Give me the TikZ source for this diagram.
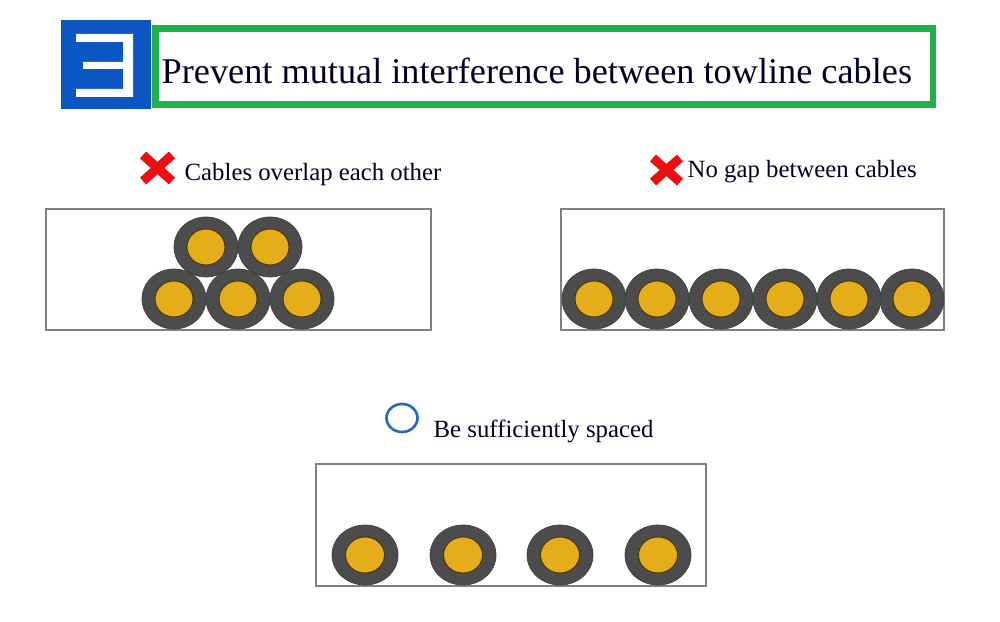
\documentclass[tikz,border=0pt]{standalone}
\usepackage{fontspec}
\usepackage{xcolor}
\setmainfont{Liberation Serif}
\definecolor{iconblue}{rgb}{0.04,0.34,0.77}
\definecolor{framegreen}{rgb}{0.13,0.69,0.30}
\definecolor{crossred}{rgb}{0.93,0.05,0.07}
\definecolor{ringblue}{rgb}{0.15,0.42,0.72}
\definecolor{shellgray}{rgb}{0.30,0.30,0.30}
\definecolor{coreyellow}{rgb}{0.90,0.68,0.10}
\definecolor{boxgray}{rgb}{0.50,0.50,0.50}
\tikzset{
  traybox/.style={draw=boxgray,line width=0.5pt},
  shell/.style={fill=shellgray,draw=black!75,line width=0.2pt},
  core/.style={fill=coreyellow,draw=black!70!coreyellow,line width=0.25pt},
  crossbar/.style={draw=crossred,line width=2.6pt},
  caption/.style={anchor=base west,inner sep=0pt,text=black!85!blue}
}
\begin{document}
\begin{tikzpicture}
    \useasboundingbox (0,0) rectangle (10,6.21);
    % Title icon
    \fill[iconblue] (0.61,5.12) rectangle (1.51,6.01);
    \fill[white] (0.76,5.87) -- (1.33,5.87) -- (1.33,5.24) -- (0.76,5.24) -- (0.76,5.32) -- (1.23,5.32)
        -- (1.23,5.52) -- (0.83,5.52) -- (0.83,5.59) -- (1.23,5.59) -- (1.23,5.79) -- (0.76,5.79) -- cycle;
    % Title frame
    \draw[framegreen,line width=1.85pt] (1.555,5.165) rectangle (9.33,5.925);
    \node[caption,font=\fontsize{10.32}{12}\selectfont] (title) at (1.61,5.37) {Prevent mutual interference between towline cables};
    % Cables overlap
    \draw[crossbar] (1.43,4.66) -- (1.72,4.40);
    \draw[crossbar] (1.72,4.66) -- (1.43,4.40);
    \node[caption,font=\fontsize{7.05}{8}\selectfont] (overlap) at (1.84,4.40) {Cables overlap each other};
    \draw[traybox] (0.46,2.91) rectangle (4.31,4.12);
    \foreach \x/\y in {2.06/3.74,2.70/3.74,1.74/3.22,2.38/3.22,3.02/3.22} {
        \draw[shell] (\x,\y) ellipse (0.32 and 0.30);
        \draw[core] (\x,\y) ellipse (0.19 and 0.18);
    }
    % No gap
    \draw[crossbar] (6.53,4.63) -- (6.80,4.39);
    \draw[crossbar] (6.80,4.63) -- (6.53,4.39);
    \node[caption,font=\fontsize{7.05}{8}\selectfont] (nogap) at (6.87,4.43) {No gap between cables};
    \draw[traybox] (5.61,2.91) rectangle (9.44,4.12);
    \foreach \x in {5.94,6.57,7.21,7.85,8.49,9.12} {
        \draw[shell] (\x,3.22) ellipse (0.32 and 0.30);
        \draw[core] (\x,3.22) ellipse (0.19 and 0.18);
    }
    % Spaced
    \draw[ringblue,line width=0.75pt] (4.02,2.03) ellipse (0.155 and 0.14);
    \node[caption,font=\fontsize{7.05}{8}\selectfont] (spaced) at (4.33,1.83) {Be sufficiently spaced};
    \draw[traybox] (3.16,0.35) rectangle (7.06,1.57);
    \foreach \x in {3.65,4.63,5.60,6.58} {
        \draw[shell] (\x,0.66) ellipse (0.33 and 0.30);
        \draw[core] (\x,0.66) ellipse (0.195 and 0.18);
    }
\end{tikzpicture}
\end{document}
